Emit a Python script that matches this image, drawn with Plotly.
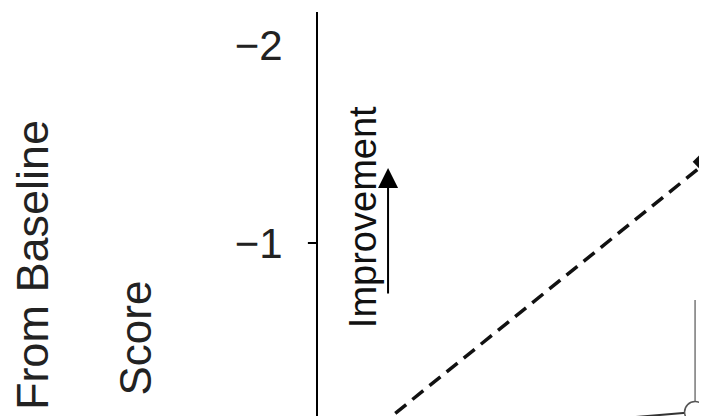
import plotly.graph_objects as go

# ---- data ----
visits = [0, 1]
active_mean = [0.0, -1.41]
placebo_mean = [0.0, -0.146]
placebo_err = [0.0, 0.566]
ytick_vals = [-2, -1]
ytick_text = ["−2", "−1"]
title_line1 = "Change From Baseline"
title_line2 = "Score"
improve_label = "Improvement"

active_offset = 0.0144
placebo_offset = -0.02
FONT = "Liberation Sans, Arial, sans-serif"

fig = go.Figure()

fig.add_trace(go.Scatter(
    x=[v + active_offset for v in visits], y=active_mean,
    mode="lines+markers",
    line=dict(color="#111111", width=3.5, dash="14px,8px"),
    marker=dict(symbol="diamond", size=22, color="#111111"),
    cliponaxis=False, showlegend=False,
))

fig.add_trace(go.Scatter(
    x=[v + placebo_offset for v in visits], y=placebo_mean,
    mode="lines+markers",
    line=dict(color="#333333", width=2),
    marker=dict(symbol="circle", size=21, color="white",
                line=dict(color="#555555", width=1.5)),
    error_y=dict(type="data", array=placebo_err, visible=True,
                 color="#777777", thickness=1.5, width=0),
    cliponaxis=False, showlegend=False,
))

# tick mark at -1 only
fig.add_shape(type="line", xref="paper", yref="y",
              x0=-0.026, x1=0, y0=-1, y1=-1,
              line=dict(color="black", width=2))

# improvement arrow + label
fig.add_annotation(x=0.0925, y=-1.379, xref="x", yref="y",
                   ax=0, ay=127, showarrow=True, arrowhead=2,
                   arrowsize=2, arrowwidth=2, arrowcolor="black", text="")
fig.add_annotation(x=0.0203, y=-1.131, xref="x", yref="y",
                   xanchor="center", yanchor="middle",
                   text=improve_label, textangle=-90, showarrow=False,
                   font=dict(family=FONT, size=38, color="#111111"))

# y axis title (two lines, as separate annotations)
fig.add_annotation(x=-0.735, y=0.163, xref="paper", yref="paper",
                   xanchor="center", yanchor="middle",
                   text=title_line1, textangle=-90, showarrow=False,
                   font=dict(family=FONT, size=45, color="#222222"))
fig.add_annotation(x=-0.468, y=0.194, xref="paper", yref="paper",
                   xanchor="center", yanchor="middle",
                   text=title_line2, textangle=-90, showarrow=False,
                   font=dict(family=FONT, size=44, color="#222222"))

# the page body adds an 8px margin, so the figure is sized to end at the window edge
fig.update_layout(
    width=699, height=408,
    margin=dict(l=310, r=0, t=4, b=0),
    paper_bgcolor="white", plot_bgcolor="white",
    xaxis=dict(range=[-0.11, 1.0145], visible=False,
               showgrid=False, zeroline=False),
    yaxis=dict(range=[-0.126, -2.167], showgrid=False, zeroline=False,
               showline=True, linecolor="black", linewidth=2,
               ticks="", tickvals=ytick_vals, ticktext=ytick_text,
               ticklabelstandoff=25,
               tickfont=dict(family=FONT, size=42, color="#222222")),
    showlegend=False,
)

fig.write_html("out.html")
